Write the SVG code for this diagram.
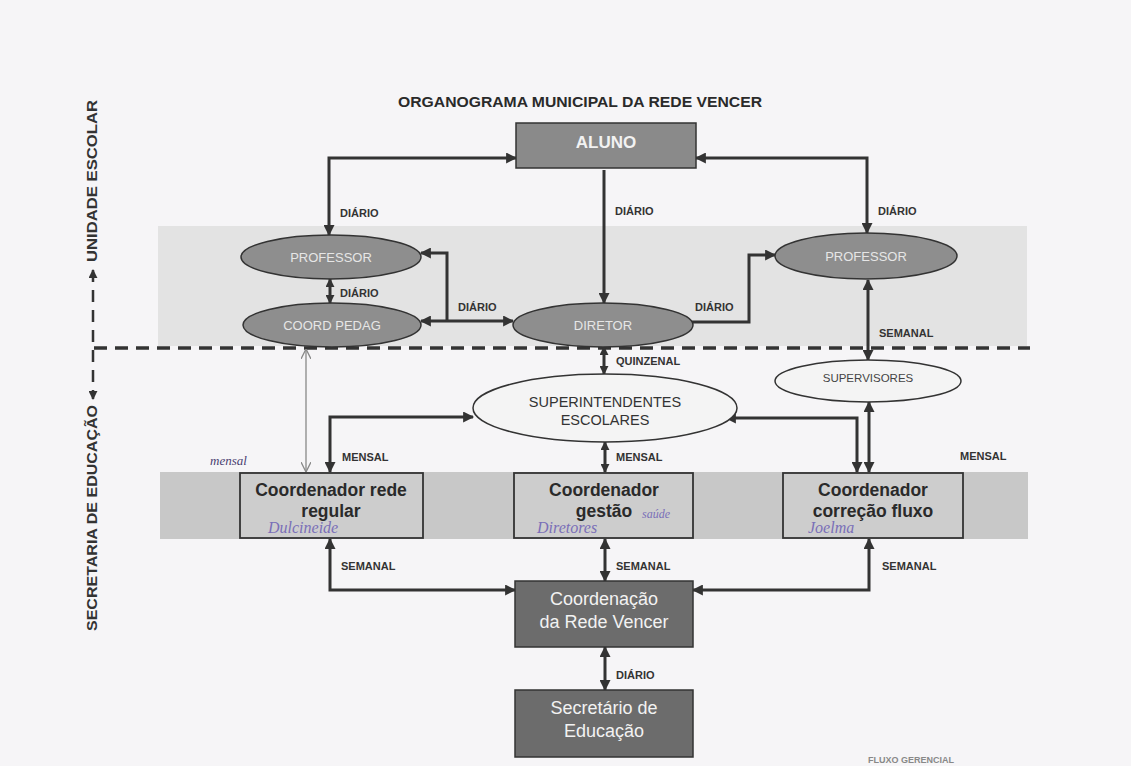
<svg xmlns="http://www.w3.org/2000/svg" width="1131" height="766" viewBox="0 0 1131 766">
<style>
  .lbl{font-family:"Liberation Sans",Arial,sans-serif;font-weight:bold;font-size:11px;fill:#333}
  .ell{fill:#8e8e8e;stroke:#333;stroke-width:1.5}
  .ellw{fill:#f4f4f4;stroke:#333;stroke-width:1.5}
  .etxt{font-family:"Liberation Sans",Arial,sans-serif;font-size:13px;fill:#e6e6e6;text-anchor:middle}
  .dark{fill:#6c6c6c;stroke:#333;stroke-width:1.5}
  .dtxt{font-family:"Liberation Sans",Arial,sans-serif;font-size:18px;fill:#f2f2f2;text-anchor:middle}
  .coord{fill:#cdcdcd;stroke:#333;stroke-width:1.8}
  .ctxt{font-family:"Liberation Sans",Arial,sans-serif;font-size:17.5px;font-weight:bold;fill:#2a2a2a;text-anchor:middle}
  .hand{font-family:"Liberation Serif",serif;font-style:italic;fill:#7a6fb8}
  .con{fill:none;stroke:#333;stroke-width:3}
  .side{font-family:"Liberation Sans",Arial,sans-serif;font-weight:bold;font-size:15px;fill:#333;text-anchor:middle}
</style>
<defs>
  <marker id="ah" viewBox="0 0 10 10" refX="9" refY="5" markerWidth="12" markerHeight="11" markerUnits="userSpaceOnUse" orient="auto-start-reverse">
    <path d="M0,0 L10,5 L0,10 z" fill="#333"/>
  </marker>
  <marker id="ahs" viewBox="0 0 10 10" refX="9" refY="5" markerWidth="9" markerHeight="9" markerUnits="userSpaceOnUse" orient="auto-start-reverse">
    <path d="M0,0 L10,5 L0,10 z" fill="#333"/>
  </marker>
  <marker id="thin" viewBox="0 0 10 10" refX="10" refY="5" markerWidth="10" markerHeight="10" markerUnits="userSpaceOnUse" orient="auto-start-reverse">
    <path d="M0,0 L10,5 L0,10" fill="none" stroke="#888" stroke-width="1.3"/>
  </marker>
</defs>
<rect x="0" y="0" width="1131" height="766" fill="#f6f5f7"/>

<!-- bands -->
<rect x="158" y="226" width="869" height="120" fill="#e3e3e3"/>
<rect x="160" y="472" width="868" height="67" fill="#c8c8c8"/>

<text x="580" y="107" text-anchor="middle" font-family="Liberation Sans, Arial, sans-serif" font-weight="bold" font-size="14px" fill="#2a2a2a" textLength="364" lengthAdjust="spacingAndGlyphs">ORGANOGRAMA MUNICIPAL DA REDE VENCER</text>

<!-- side labels -->
<g id="side">
  <text class="side" transform="translate(97,181) rotate(-90)" textLength="162" lengthAdjust="spacingAndGlyphs">UNIDADE ESCOLAR</text>
  <text class="side" transform="translate(97,518) rotate(-90)" textLength="226" lengthAdjust="spacingAndGlyphs">SECRETARIA DE EDUCAÇÃO</text>
  <path d="M93 270 V399" fill="none" stroke="#333" stroke-width="2.5" stroke-dasharray="12 8" marker-start="url(#ahs)" marker-end="url(#ahs)"/>
  <path d="M94 348 H1030" fill="none" stroke="#333" stroke-width="3.5" stroke-dasharray="13 8"/>
</g>

<!-- connectors -->
<g id="connectors">
  <path class="con" d="M329 235 V158 H516" marker-start="url(#ah)" marker-end="url(#ah)"/>
  <path class="con" d="M696 158 H867 V233" marker-start="url(#ah)" marker-end="url(#ah)"/>
  <path class="con" d="M604 170 V303" marker-end="url(#ah)"/>
  <path class="con" d="M421 321 H513" marker-start="url(#ah)" marker-end="url(#ah)"/>
  <path class="con" d="M447 321 V253 H421" marker-end="url(#ah)"/>
  <path class="con" d="M692 322 H749 V255 H775" marker-end="url(#ah)"/>
  <path class="con" d="M330 279 V303" marker-start="url(#ahs)" marker-end="url(#ahs)"/>
  <path class="con" d="M868 280 V360" marker-start="url(#ah)" marker-end="url(#ah)"/>
  <path class="con" d="M604 347 V374" marker-start="url(#ahs)" marker-end="url(#ahs)"/>
  <path class="con" d="M473 417 H330 V472" marker-start="url(#ah)" marker-end="url(#ah)"/>
  <path class="con" d="M605 442 V472" marker-start="url(#ahs)" marker-end="url(#ahs)"/>
  <path class="con" d="M726 418 H857 V472" marker-start="url(#ah)" marker-end="url(#ah)"/>
  <path class="con" d="M869 402 V472" marker-start="url(#ah)" marker-end="url(#ah)"/>
  <path d="M306 349 V472" fill="none" stroke="#888" stroke-width="1.3" marker-start="url(#thin)" marker-end="url(#thin)"/>
  <path class="con" d="M330 539 V590 H515" marker-start="url(#ah)" marker-end="url(#ah)"/>
  <path class="con" d="M605 539 V581" marker-start="url(#ah)" marker-end="url(#ah)"/>
  <path class="con" d="M869 539 V590 H693" marker-start="url(#ah)" marker-end="url(#ah)"/>
  <path class="con" d="M605 647 V690" marker-start="url(#ah)" marker-end="url(#ah)"/>
</g>

<!-- connector labels -->
<g id="labels">
  <text class="lbl" x="340" y="217">DIÁRIO</text>
  <text class="lbl" x="615" y="215">DIÁRIO</text>
  <text class="lbl" x="878" y="215">DIÁRIO</text>
  <text class="lbl" x="340" y="297">DIÁRIO</text>
  <text class="lbl" x="458" y="311">DIÁRIO</text>
  <text class="lbl" x="695" y="311">DIÁRIO</text>
  <text class="lbl" x="879" y="337">SEMANAL</text>
  <text class="lbl" x="616" y="365">QUINZENAL</text>
  <text class="lbl" x="342" y="461">MENSAL</text>
  <text class="lbl" x="616" y="461">MENSAL</text>
  <text class="lbl" x="960" y="460">MENSAL</text>
  <text class="lbl" x="341" y="570">SEMANAL</text>
  <text class="lbl" x="616" y="570">SEMANAL</text>
  <text class="lbl" x="882" y="570">SEMANAL</text>
  <text class="lbl" x="616" y="679">DIÁRIO</text>
</g>

<!-- nodes -->
<g id="aluno">
  <rect class="dark" x="516" y="123" width="180" height="45" style="fill:#8a8a8a"/>
  <text class="dtxt" x="606" y="148" style="font-weight:bold;font-size:17px">ALUNO</text>
</g>
<g id="professor-esq">
  <ellipse class="ell" cx="331" cy="257" rx="90" ry="22"/>
  <text class="etxt" x="331" y="262">PROFESSOR</text>
</g>
<g id="coord-pedag">
  <ellipse class="ell" cx="332" cy="325" rx="89" ry="22"/>
  <text class="etxt" x="332" y="330">COORD PEDAG</text>
</g>
<g id="diretor">
  <ellipse class="ell" cx="603" cy="325" rx="90" ry="22"/>
  <text class="etxt" x="603" y="330">DIRETOR</text>
</g>
<g id="professor-dir">
  <ellipse class="ell" cx="866" cy="256" rx="91" ry="23"/>
  <text class="etxt" x="866" y="261">PROFESSOR</text>
</g>
<g id="superintendentes">
  <ellipse class="ellw" cx="605" cy="408" rx="132" ry="34"/>
  <text x="605" y="407" text-anchor="middle" font-family="Liberation Sans, Arial, sans-serif" font-size="14.5px" fill="#333">SUPERINTENDENTES</text>
  <text x="605" y="425" text-anchor="middle" font-family="Liberation Sans, Arial, sans-serif" font-size="14.5px" fill="#333">ESCOLARES</text>
</g>
<g id="supervisores">
  <ellipse class="ellw" cx="868" cy="381" rx="93" ry="21"/>
  <text x="868" y="382" text-anchor="middle" font-family="Liberation Sans, Arial, sans-serif" font-size="11.5px" fill="#444">SUPERVISORES</text>
</g>
<g id="coord-rede-regular">
  <rect class="coord" x="240" y="473" width="183" height="65"/>
  <text class="ctxt" x="331" y="496">Coordenador rede</text>
  <text class="ctxt" x="331" y="517">regular</text>
  <text class="hand" x="268" y="533" font-size="16px">Dulcineide</text>
</g>
<g id="coord-gestao">
  <rect class="coord" x="514" y="473" width="179" height="65"/>
  <text class="ctxt" x="604" y="496">Coordenador</text>
  <text class="ctxt" x="604" y="517">gestão</text>
  <text class="hand" x="537" y="533" font-size="16px">Diretores</text>
  <text class="hand" x="642" y="518" font-size="12px">saúde</text>
</g>
<g id="coord-correcao-fluxo">
  <rect class="coord" x="783" y="473" width="180" height="65"/>
  <text class="ctxt" x="873" y="496">Coordenador</text>
  <text class="ctxt" x="873" y="517">correção fluxo</text>
  <text class="hand" x="808" y="533" font-size="16px">Joelma</text>
</g>
<g id="coordenacao">
  <rect class="dark" x="515" y="581" width="178" height="66"/>
  <text class="dtxt" x="604" y="605">Coordenação</text>
  <text class="dtxt" x="604" y="628">da Rede Vencer</text>
</g>
<g id="secretario">
  <rect class="dark" x="515" y="690" width="178" height="67"/>
  <text class="dtxt" x="604" y="714">Secretário de</text>
  <text class="dtxt" x="604" y="737">Educação</text>
</g>
<text class="hand" x="210" y="465" font-size="13px" style="fill:#4a4070">mensal</text>
<text x="868" y="763" font-family="Liberation Sans, Arial, sans-serif" font-weight="bold" font-size="9px" fill="#888">FLUXO GERENCIAL</text>
</svg>
